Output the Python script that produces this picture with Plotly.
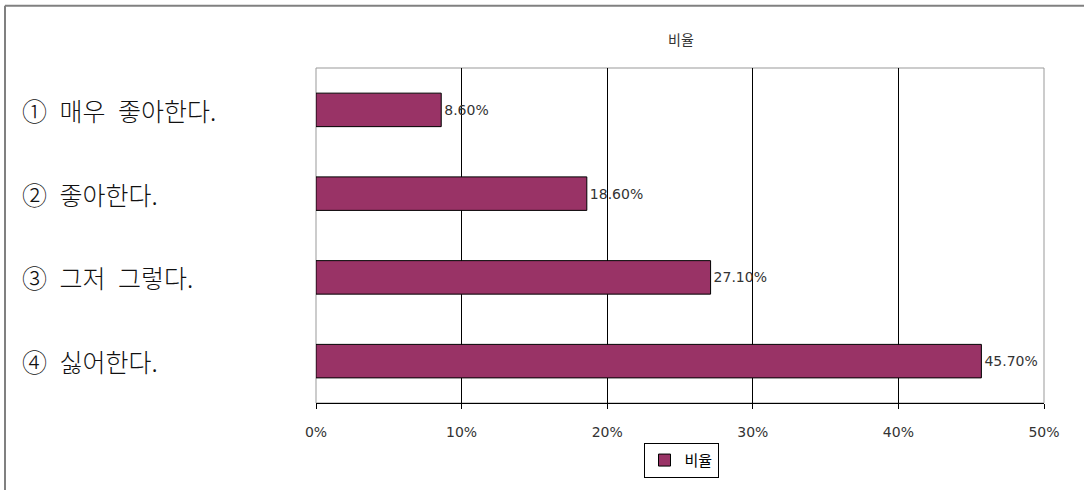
import plotly.graph_objects as go

# Survey responses and their shares (%)
categories = ["① 매우 좋아한다.", "② 좋아한다.", "③ 그저 그렇다.", "④ 싫어한다."]
shares = [8.6, 18.6, 27.1, 45.7]
series_name = "비율"
tick_values = [0, 10, 20, 30, 40, 50]
tick_labels = ["0%", "10%", "20%", "30%", "40%", "50%"]

W, H = 1084, 490
L, R, T, B = 316, 40, 68, 83
plot_w = W - L - R
plot_h = H - T - B

def px_x(px):
    return (px - L) / plot_w

def px_y(py):
    return (H - B - py) / plot_h

NUM_FONT = "DejaVu Sans, Liberation Sans, sans-serif"
KR_FONT = "Noto Sans CJK KR, sans-serif"

fig = go.Figure()
fig.add_trace(go.Bar(
    x=shares,
    y=categories,
    orientation="h",
    name=series_name,
    width=0.4,
    marker=dict(color="#993366", line=dict(color="#000000", width=1)),
    text=[f"{v:.2f}%" for v in shares],
    textposition="outside",
    textfont=dict(family=NUM_FONT, size=14, color="#333333"),
    constraintext="none",
    cliponaxis=False,
    showlegend=True,
))

# Category labels on the left, left aligned (wider word gaps)
annotations = []
for c in categories:
    annotations.append(dict(
        x=px_x(20), xref="paper", xanchor="left",
        y=c, yref="y", yanchor="middle",
        text=c.replace(" ", "\u2002"), showarrow=False,
        font=dict(family=KR_FONT, size=25, color="#111111", weight=300),
    ))

shapes = [
    # plot area frame
    dict(type="rect", xref="paper", yref="paper", x0=0, x1=1, y0=0, y1=1,
         line=dict(color="#999999", width=1), layer="below"),
    # outer chart frame (top and left edges)
    dict(type="line", xref="paper", yref="paper",
         x0=px_x(5), x1=px_x(W + 5), y0=px_y(5), y1=px_y(5),
         line=dict(color="#808080", width=2)),
    dict(type="line", xref="paper", yref="paper",
         x0=px_x(5), x1=px_x(5), y0=px_y(5), y1=px_y(H + 5),
         line=dict(color="#808080", width=2)),
]

fig.update_layout(
    width=W, height=H,
    margin=dict(l=L, r=R, t=T, b=B),
    paper_bgcolor="white", plot_bgcolor="white",
    title=dict(text=series_name, x=681 / W, xanchor="center",
               y=1 - 40 / H, yanchor="middle",
               font=dict(family=KR_FONT, size=14, color="#333333")),
    xaxis=dict(
        range=[0, 50], tickvals=tick_values, ticktext=tick_labels,
        showgrid=True, gridcolor="#000000", gridwidth=1,
        zeroline=False, showline=True, linecolor="#000000", linewidth=1,
        ticks="outside", ticklen=5, tickcolor="#000000",
        ticklabelstandoff=11,
        tickfont=dict(family=NUM_FONT, size=14, color="#333333"),
        fixedrange=True,
    ),
    yaxis=dict(
        autorange="reversed", showticklabels=False, showgrid=False,
        zeroline=False, showline=False, ticks="", fixedrange=True,
    ),
    legend=dict(
        x=px_x(681), xanchor="center", y=px_y(465), yanchor="middle",
        bgcolor="white", bordercolor="#000000", borderwidth=1,
        font=dict(family=KR_FONT, size=15, color="#000000"),
        itemwidth=30,
    ),
    annotations=annotations,
    shapes=shapes,
    bargap=0.6,
)

fig.write_html("out.html")
